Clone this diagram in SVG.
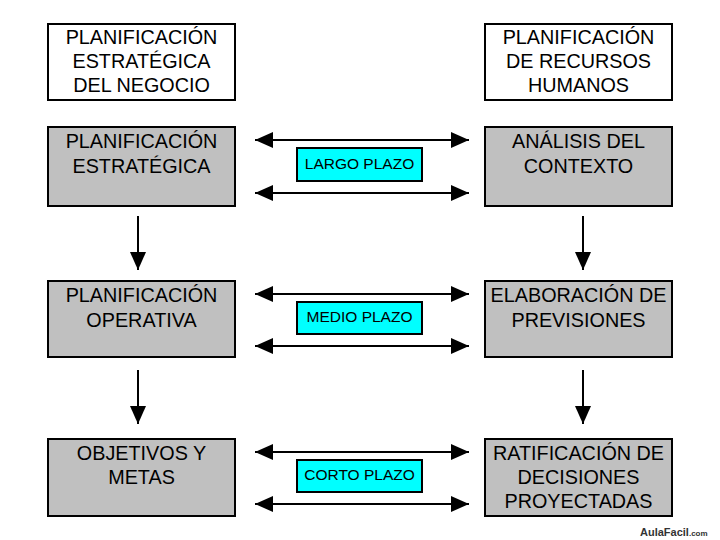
<svg xmlns="http://www.w3.org/2000/svg" width="720" height="540" viewBox="0 0 720 540">
<style>
.box{stroke:#000;stroke-width:2}
.w{fill:#fff}
.g{fill:#c0c0c0}
.t{font-family:"Liberation Sans",Arial,sans-serif;font-size:19.8px;fill:#000;text-anchor:middle}
.lab{fill:#00ffff;stroke:#000;stroke-width:2}
.lt{font-family:"Liberation Sans",Arial,sans-serif;font-size:15.5px;fill:#000;text-anchor:middle}
.c{stroke:#000;stroke-width:2;fill:none}
</style>
<defs>
<marker id="ah2" markerWidth="18" markerHeight="16" refX="18" refY="8" orient="auto-start-reverse" markerUnits="userSpaceOnUse" viewBox="0 0 18 16">
<path d="M0,0 L18,8 L0,16 z" fill="#000"/>
</marker>
</defs>
<rect width="720" height="540" fill="#fff"/>
<g id="connectors">
<line class="c" x1="255" y1="140" x2="469" y2="140" marker-start="url(#ah2)" marker-end="url(#ah2)"/>
<line class="c" x1="255" y1="193" x2="469" y2="193" marker-start="url(#ah2)" marker-end="url(#ah2)"/>
<line class="c" x1="255" y1="294" x2="469" y2="294" marker-start="url(#ah2)" marker-end="url(#ah2)"/>
<line class="c" x1="255" y1="346" x2="469" y2="346" marker-start="url(#ah2)" marker-end="url(#ah2)"/>
<line class="c" x1="255" y1="452" x2="469" y2="452" marker-start="url(#ah2)" marker-end="url(#ah2)"/>
<line class="c" x1="255" y1="504" x2="469" y2="504" marker-start="url(#ah2)" marker-end="url(#ah2)"/>
<line class="c" x1="138" y1="216" x2="138" y2="270" marker-end="url(#ah2)"/>
<line class="c" x1="138" y1="370" x2="138" y2="424" marker-end="url(#ah2)"/>
<line class="c" x1="583" y1="216" x2="583" y2="270" marker-end="url(#ah2)"/>
<line class="c" x1="583" y1="370" x2="583" y2="424" marker-end="url(#ah2)"/>
</g>
<g id="n-plan-negocio">
<rect class="box w" x="48" y="24" width="187" height="76"/>
<text class="t" x="141.5" y="44">PLANIFICACIÓN</text>
<text class="t" x="141.5" y="68">ESTRATÉGICA</text>
<text class="t" x="141.5" y="92">DEL NEGOCIO</text>
</g>
<g id="n-plan-rrhh">
<rect class="box w" x="485" y="24" width="187" height="76"/>
<text class="t" x="578.5" y="44">PLANIFICACIÓN</text>
<text class="t" x="578.5" y="68">DE RECURSOS</text>
<text class="t" x="578.5" y="92">HUMANOS</text>
</g>
<g id="n-estrategica">
<rect class="box g" x="48" y="127" width="187" height="79"/>
<text class="t" x="141.5" y="148">PLANIFICACIÓN</text>
<text class="t" x="141.5" y="173">ESTRATÉGICA</text>
</g>
<g id="n-analisis">
<rect class="box g" x="485" y="127" width="187" height="79"/>
<text class="t" x="578.5" y="148">ANÁLISIS DEL</text>
<text class="t" x="578.5" y="173">CONTEXTO</text>
</g>
<g id="n-operativa">
<rect class="box g" x="48" y="281" width="187" height="76"/>
<text class="t" x="141.5" y="302">PLANIFICACIÓN</text>
<text class="t" x="141.5" y="327">OPERATIVA</text>
</g>
<g id="n-elaboracion">
<rect class="box g" x="485" y="281" width="187" height="76"/>
<text class="t" x="578.5" y="302">ELABORACIÓN DE</text>
<text class="t" x="578.5" y="327">PREVISIONES</text>
</g>
<g id="n-objetivos">
<rect class="box g" x="48" y="439" width="187" height="77"/>
<text class="t" x="141.5" y="460">OBJETIVOS Y</text>
<text class="t" x="141.5" y="484">METAS</text>
</g>
<g id="n-ratificacion">
<rect class="box g" x="485" y="439" width="187" height="77"/>
<text class="t" x="578.5" y="460">RATIFICACIÓN DE</text>
<text class="t" x="578.5" y="484">DECISIONES</text>
<text class="t" x="578.5" y="508">PROYECTADAS</text>
</g>
<g id="l-largo">
<rect class="lab" x="297" y="148" width="125" height="33"/>
<text class="lt" x="359.5" y="169">LARGO PLAZO</text>
</g>
<g id="l-medio">
<rect class="lab" x="297" y="302" width="125" height="32"/>
<text class="lt" x="359.5" y="322">MEDIO PLAZO</text>
</g>
<g id="l-corto">
<rect class="lab" x="297" y="460" width="125" height="32"/>
<text class="lt" x="359.5" y="480">CORTO PLAZO</text>
</g>
<text x="640" y="536" font-family="'Liberation Sans',Arial,sans-serif" font-size="11" font-weight="bold" fill="#333">AulaFacil<tspan font-size="8">.com</tspan></text>
</svg>
